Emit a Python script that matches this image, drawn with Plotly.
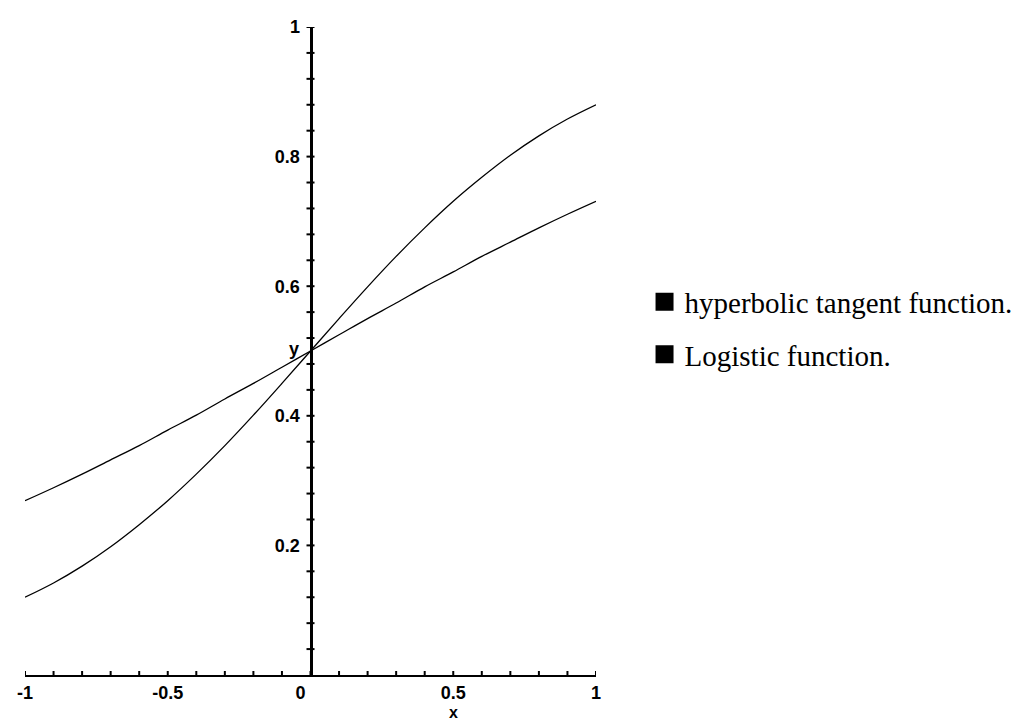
import plotly.graph_objects as go

# ---- data ----
x_vals = [-1.0, -0.9, -0.8, -0.7, -0.6, -0.5, -0.4, -0.3, -0.2, -0.1, 0.0,
          0.1, 0.2, 0.3, 0.4, 0.5, 0.6, 0.7, 0.8, 0.9, 1.0]
tanh_vals = [0.12, 0.142, 0.168, 0.198, 0.232, 0.269, 0.31, 0.354, 0.401, 0.45, 0.50,
             0.55, 0.599, 0.646, 0.69, 0.731, 0.768, 0.802, 0.832, 0.858, 0.88]
logistic_vals = [0.269, 0.289, 0.31, 0.332, 0.354, 0.378, 0.401, 0.426, 0.45, 0.475, 0.50,
                 0.525, 0.55, 0.574, 0.599, 0.622, 0.646, 0.668, 0.69, 0.711, 0.731]
series_names = ["hyperbolic tangent function.", "Logistic function."]

x_tick_vals = [-1, -0.5, 0, 0.5, 1]
x_tick_text = ["-1", "-0.5", "0\u2007\u2007", "0.5", "1"]
y_tick_vals = [0.2, 0.4, 0.6, 0.8, 1]
y_tick_text = ["0.2", "0.4", "0.6", "0.8", "1"]
x_minor = [round(-1 + 0.1 * i, 2) for i in range(21)]
y_minor = [round(0.04 * i, 2) for i in range(1, 26)]

TICK_FONT = dict(family="Liberation Sans", size=18, color="black", weight="bold")
TITLE_FONT = dict(family="Liberation Sans", size=16, color="black", weight="bold")

fig = go.Figure()
for vals in (tanh_vals, logistic_vals):
    fig.add_trace(go.Scatter(x=x_vals, y=vals, mode="lines", showlegend=False,
                             line=dict(color="black", width=1.3), line_shape="spline"))
for i, name in enumerate(series_names):
    fig.add_trace(go.Scatter(x=[None], y=[None], mode="markers", name=name,
                             legendgroup=f"g{i}",
                             marker=dict(symbol="square", size=16, color="black",
                                         line=dict(color="black", width=2))))

shapes = []
for v in x_minor:
    shapes.append(dict(type="line", xref="x", yref="y", x0=v, x1=v,
                       ysizemode="pixel", yanchor=0, y0=-4, y1=4,
                       line=dict(color="black", width=2)))
for v in y_minor:
    shapes.append(dict(type="line", xref="x", yref="y", y0=v, y1=v,
                       xsizemode="pixel", xanchor=0, x0=-4, x1=4,
                       line=dict(color="black", width=2)))

annotations = [
    dict(x=0, y=0.5, xref="x", yref="y", text="y", showarrow=False,
         xshift=-17, yshift=2, font=TICK_FONT),
    dict(x=0.5, y=0, xref="x", yref="y", text="x", showarrow=False,
         yshift=-37, font=TITLE_FONT),
]

fig.update_layout(
    width=1018, height=714,
    margin=dict(l=9, r=421, t=15, b=47),
    paper_bgcolor="white", plot_bgcolor="white",
    shapes=shapes, annotations=annotations,
    xaxis=dict(range=[-1, 1], showgrid=False, zeroline=False,
               showline=True, linecolor="black", linewidth=2,
               tickvals=x_tick_vals, ticktext=x_tick_text, ticks="",
               ticklabelstandoff=0, tickfont=TICK_FONT),
    yaxis=dict(range=[0, 1], showgrid=False, zeroline=False,
               anchor="free", position=0.5,
               showline=True, linecolor="black", linewidth=3,
               tickvals=y_tick_vals, ticktext=y_tick_text, ticks="",
               ticklabelstandoff=6, tickfont=TICK_FONT),
    legend=dict(x=1.085, y=0.535, xanchor="left", yanchor="middle",
                font=dict(family="Liberation Serif", size=29, color="black"),
                itemsizing="trace", traceorder="grouped", tracegroupgap=12,
                bgcolor="rgba(0,0,0,0)"),
    showlegend=True,
)

fig.write_html("out.html")
